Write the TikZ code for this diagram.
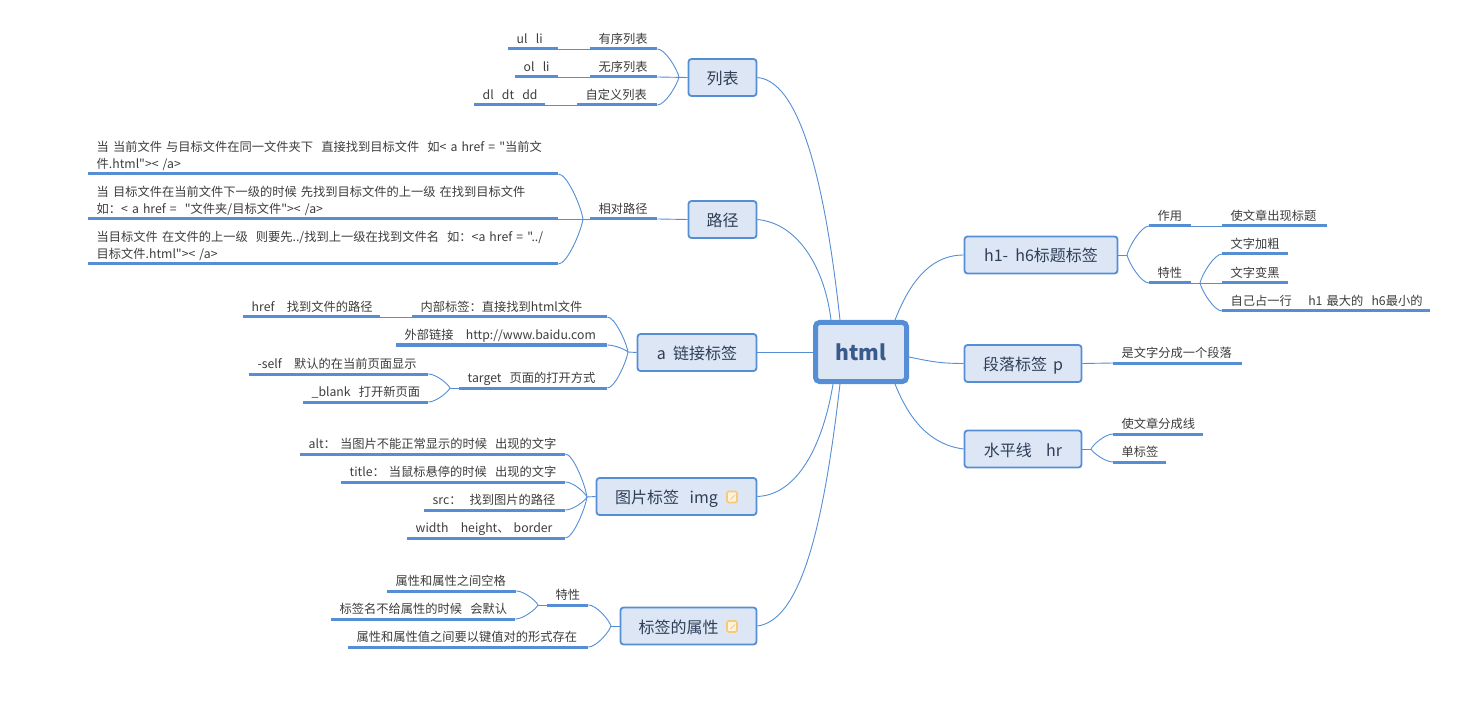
\documentclass[tikz,border=0pt]{standalone}
\usepackage{fontspec}
\usepackage{xcolor}
\usetikzlibrary{calc}
\setmainfont[Ligatures=TeXOff]{Noto Sans CJK SC}
\definecolor{mapblue}{HTML}{558ED5}
\definecolor{mapfill}{HTML}{DCE6F4}
\definecolor{maptext}{HTML}{3C3C3C}
\definecolor{topictext}{HTML}{2F3F58}
\definecolor{roottext}{HTML}{3A5A8C}
\definecolor{noteline}{HTML}{F9C878}
\definecolor{notefill}{HTML}{FFF4E0}

\begin{document}
\begin{tikzpicture}[x=1pt, y=-1pt,
    link/.style={draw=mapblue, line width=0.9pt},
    forkto/.style={to path={(\tikztostart) .. controls ($(\tikztostart)!0.35!(\tikztotarget|-\tikztostart)$) and ($(\tikztotarget)!0.3!($(\tikztostart)!0.7!(\tikztotarget|-\tikztostart)$)$) .. (\tikztotarget)}},
    leafbar/.style={draw=mapblue, line width=3pt},
    leaf/.style={anchor=south west, inner xsep=8.5, inner ysep=0, text width=#1-17, align=left, text depth=5.5, text=maptext,
        font=\fontsize{12.25}{17}\selectfont, execute at begin node={\hyphenpenalty=10000 },
        append after command={(\tikzlastnode.south west) edge[leafbar] (\tikzlastnode.south east)}},
    topic/.style={draw=mapblue, fill=mapfill, line width=1.8pt, rounded corners=3pt, text=topictext, minimum height=37,
        text height=14, text depth=0, font=\fontsize{16}{20}\selectfont},
    root/.style={draw=mapblue, fill=mapfill, line width=5pt, rounded corners=4pt, text=roottext, minimum width=91, minimum height=59,
        font=\fontsize{21}{28}\selectfont\bfseries},
    noteicon/.style={draw=noteline, fill=notefill, line width=1.6pt, rounded corners=1.5pt, minimum width=10, minimum height=11, inner sep=0}]
    \useasboundingbox (0,0) rectangle (1470,711);

    \node[root] (html) at (861,352) {html};

    \node[topic, minimum width=68] (liebiao) at (722.5,77.5) {列表};
    \node[topic, minimum width=68] (lujing) at (722.5,219.5) {路径};
    \node[topic, minimum width=119] (alink) at (697,352.5) {a~~链接标签};
    \node[topic, minimum width=160] (imgtag) at (676.5,496.5) {图片标签~~~img\hspace*{20pt}};
    \node[topic, minimum width=136] (attr) at (688.5,626) {标签的属性\hspace*{20pt}};
    \node[topic, minimum width=153] (htag) at (1041,255) {h1-~~h6标题标签};
    \node[topic, minimum width=117] (ptag) at (1023,363.5) {段落标签\hspace{6pt}p};
    \node[topic, minimum width=117] (hrtag) at (1023,449) {水平线~~~~hr};

    \node[noteicon] (imgnote) at (732,497) {};
    \node[noteicon] (attrnote) at (732,626.5) {};
    \draw[noteline, line width=1pt] ([shift={(-1.5,2.5)}]imgnote.center) -- ([shift={(3,-2)}]imgnote.center);
    \draw[noteline, line width=1pt] ([shift={(-1.5,2.5)}]attrnote.center) -- ([shift={(3,-2)}]attrnote.center);

    \node[leaf=67] (youxu) at (590,49) {有序列表};
    \node[leaf=67] (wuxu) at (590,77) {无序列表};
    \node[leaf=80] (zidingyi) at (577,105) {自定义列表};
    \node[leaf=50] (ulli) at (508,49) {ul~~li};
    \node[leaf=43] (olli) at (515,77) {ol~~li};
    \node[leaf=71] (dldt) at (474,105) {dl~~dt~~dd};

    \node[leaf=67] (xiangdui) at (590,219) {相对路径};
    \node[leaf=470, text depth=22.5] (pathone) at (88,174) {当~当前文件~与目标文件在同一文件夹下~~直接找到目标文件~~如<~a~href~=~"当前文\\件.html"><~/a>};
    \node[leaf=470, text depth=22.5] (pathtwo) at (88,219) {当~目标文件在当前文件下一级的时候~先找到目标文件的上一级~在找到目标文件\\如：<~a~href~=~~"文件夹/目标文件"><~/a>};
    \node[leaf=470, text depth=22.5] (paththree) at (88,264) {当目标文件~在文件的上一级~~则要先../找到上一级在找到文件名~~如：<a~href~=~"../\\目标文件.html"><~/a>};

    \node[leaf=195] (neibu) at (412,317) {内部标签：直接找到html文件};
    \node[leaf=137] (hrefleaf) at (243,317) {href~~~找到文件的路径};
    \node[leaf=211] (waibu) at (396,345) {外部链接~~~http://www.baidu.com};
    \node[leaf=148] (target) at (459,388) {target~~页面的打开方式};
    \node[leaf=179] (selfleaf) at (249,374) {-self~~~默认的在当前页面显示};
    \node[leaf=125] (blankleaf) at (303,402) {\_blank~~打开新页面};

    \node[leaf=265] (altleaf) at (300,454) {alt：~当图片不能正常显示的时候~~出现的文字};
    \node[leaf=224] (titleleaf) at (341,482) {title：~当鼠标悬停的时候~~出现的文字};
    \node[leaf=141] (srcleaf) at (424,510) {src：~~找到图片的路径};
    \node[leaf=158] (widthleaf) at (407,538) {width~~~height、~border};

    \node[leaf=41] (texing) at (547,605) {特性};
    \node[leaf=129] (kongge) at (387,591) {属性和属性之间空格};
    \node[leaf=184] (moren) at (331,619) {标签名不给属性的时候~~会默认};
    \node[leaf=240] (jianzhi) at (348,647) {属性和属性值之间要以键值对的形式存在};

    \node[leaf=42] (zuoyong) at (1149,226) {作用};
    \node[leaf=105] (biaoti) at (1222,226) {使文章出现标题};
    \node[leaf=42] (htexing) at (1149,283) {特性};
    \node[leaf=66] (jiacu) at (1222,254) {文字加粗};
    \node[leaf=66] (bianhei) at (1222,283) {文字变黑};
    \node[leaf=208] (zhanhang) at (1222,311) {自己占一行~~~~h1~最大的~~h6最小的};

    \node[leaf=129] (duanluo) at (1113,363) {是文字分成一个段落};
    \node[leaf=90] (fenge) at (1113,434) {使文章分成线};
    \node[leaf=53] (danbiao) at (1113,462) {单标签};

    \coordinate (lbfork) at (679,77);
    \coordinate (ljfork) at (583,219);
    \coordinate (afork) at (628,352);
    \coordinate (tgfork) at (450,388);
    \coordinate (imgfork) at (587,497);
    \coordinate (attrfork) at (611,626);
    \coordinate (txfork) at (538,605);
    \coordinate (hfork) at (1127,255);
    \coordinate (htxfork) at (1200,283);
    \coordinate (hrfork) at (1091,449);

    \draw[link] (liebiao.east) .. controls +(48,4) and +(-12,-110) .. ([xshift=27]html.north west);
    \draw[link] (lujing.east) .. controls +(42,4) and +(-6,-50) .. ([xshift=18]html.north west);
    \draw[link] (alink.east) -- (html.west |- alink.east);
    \draw[link] (imgtag.east) .. controls +(45,-2) and +(-8,50) .. ([xshift=20]html.south west);
    \draw[link] (attr.east) .. controls +(48,-6) and +(-14,120) .. ([xshift=27]html.south west);
    \draw[link] (htag.west) .. controls +(-40,0) and +(10,-25) .. ([xshift=-14]html.north east);
    \draw[link] (ptag.west) .. controls +(-25,0) and +(20,4) .. ([yshift=-5]html.east);
    \draw[link] (hrtag.west) .. controls +(-40,-5) and +(10,25) .. ([xshift=-14]html.south east);

    \draw[link] (liebiao.west) -- (wuxu.south east);
    \draw[link] (youxu.south east) to[forkto] (lbfork);
    \draw[link] (zidingyi.south east) to[forkto] (lbfork);
    \draw[link] (ulli.south east) -- (youxu.south west);
    \draw[link] (olli.south east) -- (wuxu.south west);
    \draw[link] (dldt.south east) -- (zidingyi.south west);

    \draw[link] (lujing.west) -- (xiangdui.south east);
    \draw[link] (xiangdui.south west) -- (pathtwo.south east);
    \draw[link] (pathone.south east) to[forkto] (ljfork);
    \draw[link] (paththree.south east) to[forkto] (ljfork);

    \draw[link] (alink.west) -- (afork);
    \draw[link] (neibu.south east) to[forkto] (afork);
    \draw[link] (waibu.south east) to[forkto] (afork);
    \draw[link] (target.south east) to[forkto] (afork);
    \draw[link] (hrefleaf.south east) -- (neibu.south west);
    \draw[link] (target.south west) -- (tgfork);
    \draw[link] (selfleaf.south east) to[forkto] (tgfork);
    \draw[link] (blankleaf.south east) to[forkto] (tgfork);

    \draw[link] (imgtag.west) -- (imgfork);
    \foreach \leafname in {altleaf, titleleaf, srcleaf, widthleaf}
        \draw[link] (\leafname.south east) to[forkto] (imgfork);

    \draw[link] (attr.west) -- (attrfork);
    \draw[link] (texing.south east) to[forkto] (attrfork);
    \draw[link] (jianzhi.south east) to[forkto] (attrfork);
    \draw[link] (texing.south west) -- (txfork);
    \draw[link] (kongge.south east) to[forkto] (txfork);
    \draw[link] (moren.south east) to[forkto] (txfork);

    \draw[link] (htag.east) -- (hfork);
    \draw[link] (zuoyong.south west) to[forkto] (hfork);
    \draw[link] (htexing.south west) to[forkto] (hfork);
    \draw[link] (zuoyong.south east) -- (biaoti.south west);
    \draw[link] (htexing.south east) -- (bianhei.south west);
    \draw[link] (jiacu.south west) to[forkto] (htxfork);
    \draw[link] (zhanhang.south west) to[forkto] (htxfork);

    \draw[link] (ptag.east) -- (duanluo.south west);
    \draw[link] (hrtag.east) -- (hrfork);
    \draw[link] (fenge.south west) to[forkto] (hrfork);
    \draw[link] (danbiao.south west) to[forkto] (hrfork);
\end{tikzpicture}
\end{document}
